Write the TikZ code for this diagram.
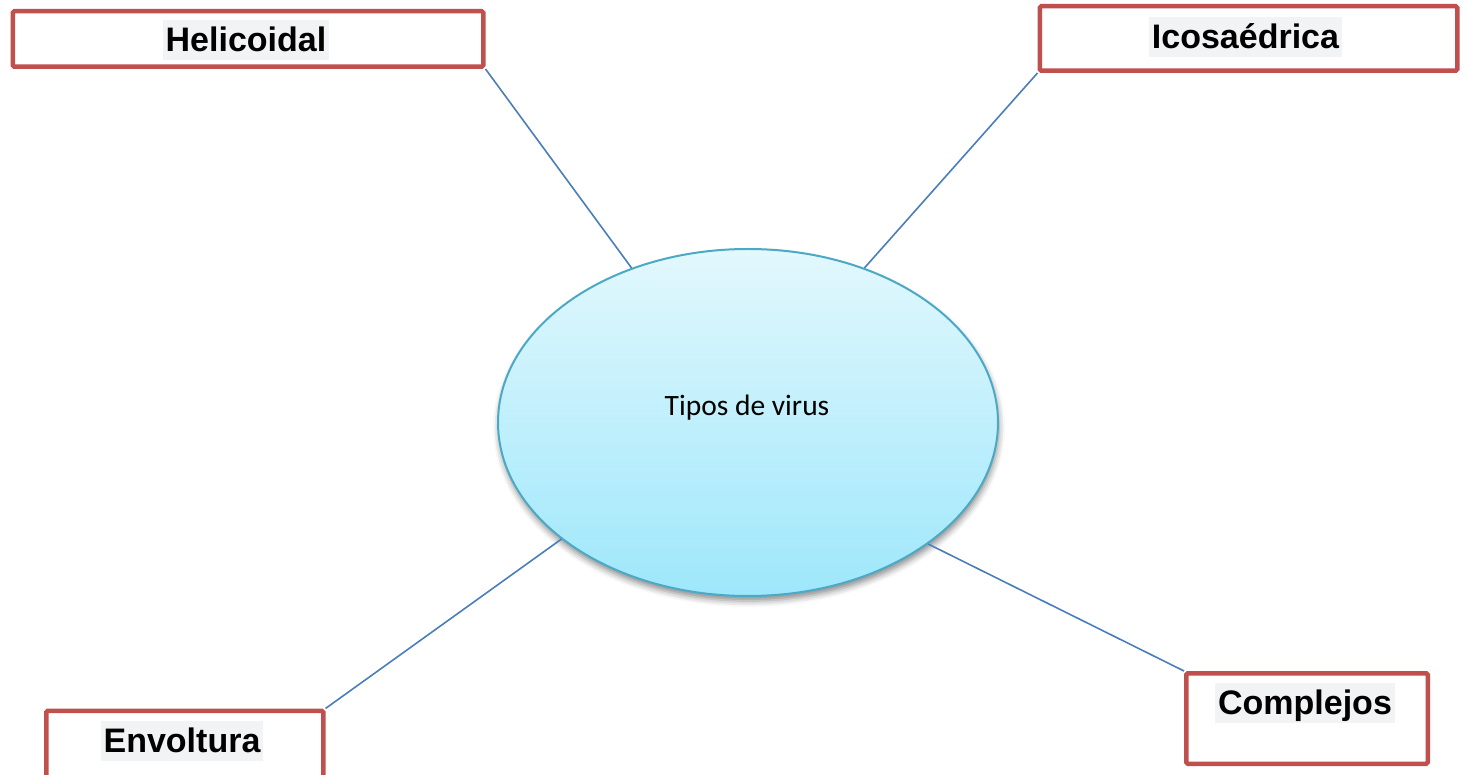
\documentclass[tikz,border=0pt]{standalone}
\usepackage{fontspec}
\setmainfont{Liberation Sans}
\newfontfamily\bodyfont{Carlito}
\usetikzlibrary{shapes.geometric,shadows.blur}

\definecolor{boxred}{HTML}{C0504D}
\definecolor{linkblue}{HTML}{4A7EBB}
\definecolor{ellborder}{HTML}{4BA9C6}
\definecolor{elltop}{HTML}{E2F8FD}
\definecolor{ellbottom}{HTML}{9EE7FB}
\definecolor{labelbg}{HTML}{F2F3F5}

\tikzset{
  redbox/.style={draw=boxred, line width=4.5pt, fill=white, rounded corners=1.5pt,
    inner sep=0pt, anchor=north west},
  boxlabel/.style={fill=labelbg, font=\fontsize{34}{38}\selectfont\bfseries,
    inner xsep=3pt, inner ysep=1.5pt, text height=30.5pt, text depth=7pt},
  link/.style={draw=linkblue, line width=1.6pt},
  hub/.style={ellipse, draw=ellborder, line width=2pt, inner sep=0pt,
    top color=elltop, bottom color=ellbottom,
    blur shadow={shadow xshift=1pt, shadow yshift=-5pt, shadow blur radius=6pt,
      shadow opacity=45}}
}

\begin{document}
\begin{tikzpicture}[x=1pt, y=-1pt]
\useasboundingbox (0,0) rectangle (1468,775);

% central ellipse
\node[hub, minimum width=500pt, minimum height=347pt] (hub) at (748,422.5) {};
\node[font=\bodyfont\fontsize{29.5}{33}\selectfont] (hubtext) at (747,408) {Tipos de virus};

% category boxes
\node[redbox, minimum width=470.5pt, minimum height=55.5pt] (heli) at (10.5,9) {};
\node[boxlabel] (helitext) at (246,40) {Helicoidal};

\node[redbox, minimum width=417.5pt, minimum height=64.5pt] (icosa) at (1037.5,4) {};
\node[boxlabel] (icosatext) at (1245.5,37) {Icosaédrica};

\node[redbox, minimum width=277pt, minimum height=82pt] (envol) at (44,708.5) {};
\node[boxlabel] (envoltext) at (182,741) {Envoltura};

\node[redbox, minimum width=241.5pt, minimum height=90.5pt] (compl) at (1184,671) {};
\node[boxlabel] (compltext) at (1305,703) {Complejos};

% connectors
\draw[link] (heli.south east) -- (hub.127);
\draw[link] (icosa.south west) -- (hub.53.5);
\draw[link] (envol.north east) -- (hub.212.5);
\draw[link] (compl.north west) -- (hub.326.9);
\end{tikzpicture}
\end{document}
